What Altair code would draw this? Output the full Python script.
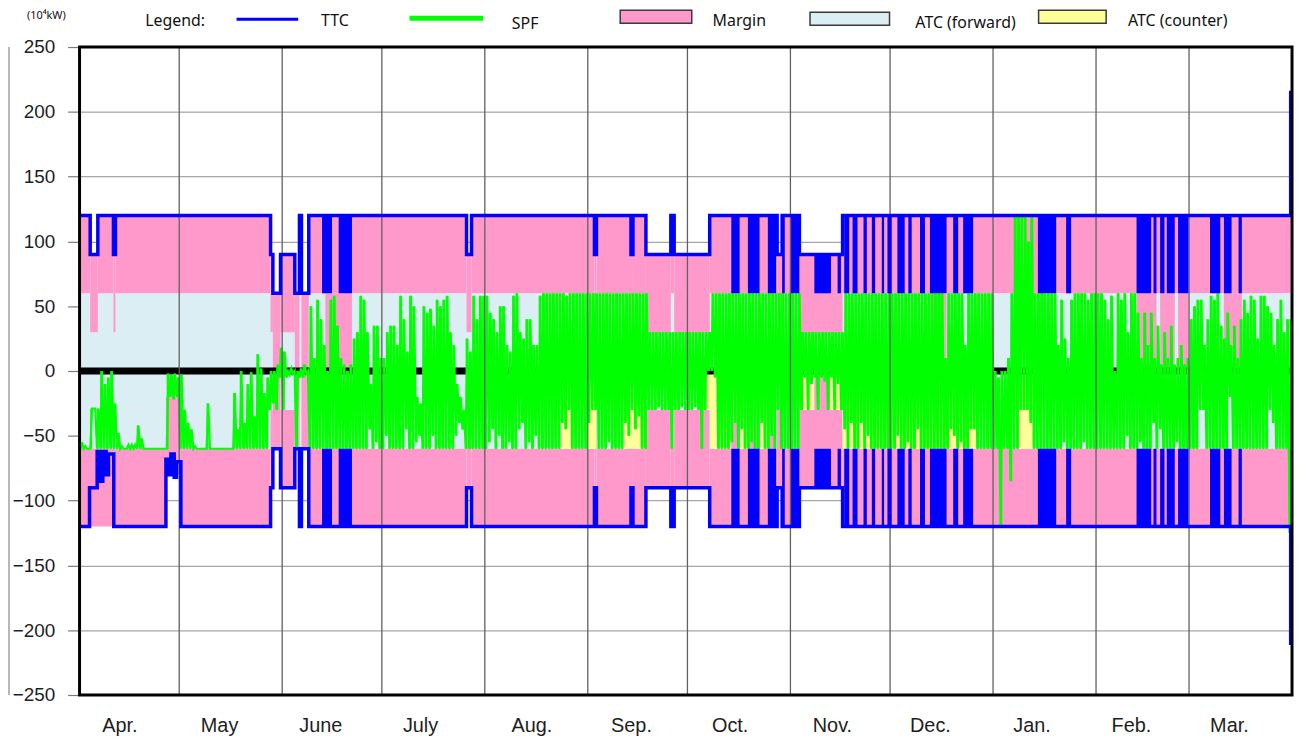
import json
import altair as alt
import pandas as pd

W, H = 1220, 652
PINK, LBLUE, YELLOW, GREEN, BLUE = "#FF99CC", "#DAEEF3", "#FFFF99", "#00FF00", "#0000FF"

# ---------------- axis categories / ticks ----------------
MONTHS = ["Apr.", "May", "June", "July", "Aug.", "Sep.", "Oct.", "Nov.", "Dec.", "Jan.", "Feb.", "Mar."]
MONTH_START = [0, 30, 61, 91, 122, 153, 183, 214, 244, 275, 306, 334, 365]
MONTH_LABEL_AT = [12, 42, 72.5, 102.5, 136, 166, 195.7, 226.5, 256, 286.6, 316.5, 346]
Y_TICKS = [-250, -200, -150, -100, -50, 0, 50, 100, 150, 200, 250]

# ---------------- TTC (step change points: day, 10^4 kW) ----------------
TTC_UP = [(0, 120), (3.2, 90), (5.5, 120), (10.2, 90), (10.8, 120), (57.5, 90), (58.2, 60), (60.5, 90),
          (64.8, 60), (66.2, 120), (66.8, 60), (69, 120), (116.5, 90), (118, 120), (155, 90), (155.6, 120),
          (166, 90), (166.6, 120), (170.5, 90), (178, 120), (179, 90), (189.7, 120), (210, 90), (211.5, 120),
          (216.7, 90), (229.7, 120), (364.6, 215), (365, 215)]
TTC_DN = [(0, -120), (3, -90), (5.3, -62), (6.3, -85), (7, -62), (8, -80), (8.7, -64), (10.3, -120),
          (26, -68), (27, -80), (27.5, -64), (28.5, -82), (29.2, -70), (30.5, -120), (57.5, -90), (58.2, -60),
          (60.5, -90), (64.8, -60), (66.2, -120), (66.8, -60), (69, -120), (116.5, -90), (118, -120),
          (155, -90), (155.6, -120), (166, -90), (166.6, -120), (170.5, -90), (178, -120), (179, -90),
          (189.7, -120), (210, -90), (211.5, -120), (216.7, -90), (229.7, -120), (364.6, -210), (365, -210)]

# periods where TTC flips hourly (drawn as solid blue): day from, day to, outer TTC value, inner value
TTC_FLIP = [(73, 76, 120, 60), (78, 82, 120, 60),
            (196.2, 198.7, 120, 60), (201.2, 204.7, 120, 60), (207.2, 209.7, 120, 60), (211.5, 212.3, 120, 60),
            (214.2, 216.7, 120, 60), (221.2, 226.2, 90, 60), (228.2, 229.2, 90, 60),
            (230.2, 231.7, 120, 60), (232.7, 234.2, 120, 60), (236, 237, 120, 60), (238.5, 239.5, 120, 60),
            (241.5, 242.2, 120, 60), (243.2, 244.5, 120, 60), (246.2, 248.4, 120, 60), (249.5, 250.5, 120, 60),
            (253, 254.5, 120, 60), (256, 261, 120, 60), (263, 264.5, 120, 60), (266, 269, 120, 60),
            (288.5, 294, 120, 60), (297, 298.5, 120, 60),
            (318.2, 322.6, 120, 60), (323.3, 324.2, 120, 60), (325.3, 326.6, 120, 60), (327.3, 329.7, 120, 60),
            (330.7, 333.8, 120, 60), (340.3, 343.4, 120, 60), (344.5, 346.8, 120, 60), (348.9, 349.9, 120, 60)]

# ---------------- Margin / ATC areas (day from, day to, low, high) ----------------
MARGIN_RUNS = [
    (0, 3.2, 60, 120), (3.2, 5.5, 30, 90), (5.5, 10.2, 60, 120), (10.2, 10.8, 30, 90), (10.8, 57.5, 60, 120),
    (57.5, 58.2, 30, 90), (58.2, 60.5, 0, 60), (60.5, 64.8, 30, 90), (64.8, 66.2, 0, 60), (66.2, 66.8, 60, 120),
    (66.8, 69, 0, 60), (69, 116.5, 60, 120), (116.5, 118, 30, 90), (118, 155, 60, 120), (155, 155.6, 30, 90),
    (155.6, 166, 60, 120), (166, 166.6, 30, 90), (166.6, 170.5, 60, 120), (170.5, 178, 30, 90),
    (178, 179, 60, 120), (179, 189.7, 30, 90), (189.7, 210, 60, 120), (210, 211.5, 30, 90),
    (211.5, 216.7, 60, 120), (216.7, 229.7, 30, 90), (229.7, 364.6, 60, 120),
    (0, 26, -120, -60), (26, 30.5, -80, -20), (30.5, 57.5, -120, -60),
    (57.5, 58.2, -90, -30), (58.2, 60.5, -60, 0), (60.5, 64.8, -90, -30), (64.8, 66.2, -60, 0),
    (66.2, 66.8, -120, -60), (66.8, 69, -60, 0), (69, 116.5, -120, -60), (116.5, 118, -90, -30),
    (118, 155, -120, -60), (155, 155.6, -90, -30), (155.6, 166, -120, -60), (166, 166.6, -90, -30),
    (166.6, 170.5, -120, -60), (170.5, 178, -90, -30), (178, 179, -120, -60), (179, 189.7, -90, -30),
    (189.7, 210, -120, -60), (210, 211.5, -90, -30), (211.5, 216.7, -120, -60), (216.7, 229.7, -90, -30),
    (229.7, 364.6, -120, -60)]
MARGIN_IN_BAND = [(74, 82, 0, 60), (196.2, 198.7, -60, 0), (201.2, 204.7, -60, 0), (207.2, 209.7, -60, 0),
                  (221.2, 226.2, -30, 0), (256, 261, 0, 60), (318.2, 324.2, 0, 60), (325.3, 329.7, 0, 60),
                  (330.7, 333.8, 0, 60), (344.5, 349.9, 0, 60)]
ATC_FWD_RUNS = [(0, 364.6, -60, 60)]
ATC_CNT_RUNS = [(145, 148.5, -60, 0), (152.5, 155.5, -60, 0), (163.5, 170.5, -60, 0), (187.7, 189.7, -30, 0),
                (189.7, 196, -60, 0), (199, 201, -60, 0), (205, 207, -60, 0), (217, 221, -30, 0),
                (226, 229.7, -30, 0), (229.7, 270, -60, 0), (282, 287.5, -60, 0)]

# ---------------- SPF daily high / low (10^4 kW) ----------------
hi_apr = [-55, -58, -60, -29, -29, -29, 0, -10, -5, 0, -25, -48, -58, -60, -57, -57, -57, -42, -52, -60,
          -60, -60, -60, -60, -60, -60, -2, -3, -2, -5]
lo_apr = [-60, -60, -60, -60, -29, -60, -60, -60, -60, -60, -60, -60, -60, -60, -60, -60, -60, -60, -60, -60,
          -60, -60, -60, -60, -60, -60, -60, -20, -22, -20]
hi_may = [-3, -30, -40, -45, -58, -60, -60, -60, -25, -60, -60, -60, -60, -60, -60, -60, -17, -45, 0, -40,
          -10, -1, -35, 13, 2, -17, -5, 0, 0, 5, 18]
lo_may = [-60, -60, -60, -60, -60, -60, -60, -60, -60, -60, -60, -60, -60, -60, -60, -60, -60, -60, -60, -60,
          -60, -60, -60, -60, -60, -60, -60, -30, -25, -30, -5]
hi_jun = [15, 0, 2, 0, 0, 2, 5, 0, 50, 10, 55, 40, 20, 0, 55, 58, 35, 10, 5, 0,
          5, 25, 30, 58, 55, 30, -10, 35, 35, 10]
lo_jun = [-30, -5, -3, -2, -60, -5, -5, -2, -60, -60, -60, -60, -60, -60, -60, -60, -60, -60, -60, -60,
          -60, -60, -60, -60, -60, -60, -45, -60, -55, -60]
hi_jul = [10, 30, 35, 35, 20, 58, 40, 15, 58, 50, -20, -25, 50, 45, 48, 35, 55, 50, 55, 58,
          30, 20, -10, -20, -30, 25, 15, 58, 40, 58, 58]
lo_jul = [-60, -50, -60, -60, -60, -60, -60, -45, -60, -60, -55, -50, -60, -60, -60, -50, -60, -60, -60, -60,
          -60, -60, -50, -40, -45, -60, -60, -60, -60, -60, -60]
hi_aug = [58, 45, 40, 30, 50, 50, 20, 15, 58, 60, 30, 25, 40, 40, 20, 20, 58, 60, 60, 60,
          60, 60, 60, 60, 58, 60, 60, 60, 60, 60, 60]
lo_aug = [-60, -55, -45, -60, -50, -60, -60, -55, -60, -60, -45, -40, -60, -55, -60, -50, -60, -60, -60, -60,
          -60, -60, -60, -40, -45, -30, -60, -60, -60, -60, -60]
hi_sep = [60, 60, 60, 60, 60, 60, 60, 60, 60, 60, 60, 60, 60, 60, 60, 60, 60, 60, 30, 30,
          30, 30, 30, 30, 30, 30, 30, 30, 30, 30]
lo_sep = [-40, -30, -30, -60, -60, -60, -55, -60, -60, -60, -60, -40, -50, -30, -45, -35, -60, -60, -30, -30,
          -30, -28, -30, -30, -30, -60, -30, -30, -28, -30]
hi_oct = [30, 30, 30, 30, 30, 30, 30, 60, 60, 60, 60, 60, 60, 60, 60, 60, 60, 60, 60, 60,
          60, 60, 60, 60, 60, 60, 60, 60, 60, 60, 60]
lo_oct = [-30, -30, -28, -30, -60, -30, 0, 0, -5, -60, -60, -60, -60, -55, -40, -60, -45, -60, -60, -55,
          -60, -60, -40, -60, -60, -50, -60, -30, -60, -60, -60]
hi_nov = [60, 60, 60, 30, 30, 30, 30, 30, 30, 30, 30, 30, 30, 30, 30, 30, 60, 60, 60, 60,
          60, 60, 60, 60, 60, 60, 60, 60, 60, 60]
lo_nov = [-60, -60, -60, -30, -5, -30, -10, -5, -30, -5, -8, -30, -5, -30, -10, -30, -45, -60, -40, -60,
          -60, -40, -60, -50, -60, -60, -60, -60, -60, -60]
hi_dec = [60, 60, 60, 60, 60, 60, 60, 60, 60, 60, 60, 60, 60, 60, 100, 60, 10, 60, 60, 60,
          60, 60, 20, 60, 60, 60, 60, 60, 60, 60, 60]
lo_dec = [-60, -60, -50, -60, -60, -55, -60, -60, -45, -60, -60, -60, -60, -60, -60, -60, -60, -60, -45, -50,
          -60, -55, -60, -60, -45, -45, -60, -60, -60, -60, -60]
hi_jan = [0, -5, 0, 0, 10, 60, 120, 120, 120, 120, 100, 120, 60, 60, 110, 60, 60, 60, 60, 20,
          55, 25, 10, 55, 60, 60, 60, 60, 55, 60, 60]
lo_jan = [-60, -60, -120, -60, -60, -85, -60, -60, -30, -30, -30, -40, -60, -60, -60, -60, -60, -60, -60, -60,
          -60, -55, -60, -60, -60, -60, -60, -55, -60, -60, -60]
hi_feb = [60, 60, 55, 40, 58, 0, 60, 55, 60, 30, 60, 60, 45, 10, 45, 20, 45, 10, 35, 5,
          30, 10, 35, 5, 10, 20, 5, 10]
lo_feb = [-60, -60, -60, -60, -60, -60, -60, -60, -60, -50, -60, -60, -60, -55, -60, -60, -60, -40, -60, -45,
          -60, -60, -60, -60, -55, -60, -60, -60]
hi_mar = [40, 50, 55, 55, 20, 40, 58, 55, 60, 35, 25, 45, 20, 35, 10, 40, 55, 45, 58, 55,
          25, 58, 58, 50, 45, 20, 40, 55, 30, 40, 40]
lo_mar = [-60, -60, -60, -30, -30, -60, -60, -60, -60, -60, -60, -60, -20, -60, -60, -60, -60, -60, -60, -60,
          -60, -60, -60, -60, -30, -40, -60, -60, -60, -60, -125]

SPF_HI = hi_apr + hi_may + hi_jun + hi_jul + hi_aug + hi_sep + hi_oct + hi_nov + hi_dec + hi_jan + hi_feb + hi_mar
SPF_LO = lo_apr + lo_may + lo_jun + lo_jul + lo_aug + lo_sep + lo_oct + lo_nov + lo_dec + lo_jan + lo_feb + lo_mar

# ---------------- scales / axes (shared by every data layer) ----------------
FONT = "Liberation Sans"
XS = alt.Scale(domain=[0, 365], nice=False, zero=False)
YS = alt.Scale(domain=[-250, 250], nice=False, zero=False)
label_expr = f"{json.dumps(MONTHS)}[indexof({json.dumps(MONTH_LABEL_AT)}, datum.value)]"
XAX = alt.Axis(values=MONTH_LABEL_AT, labelExpr=label_expr, title=None, grid=False, ticks=False, domain=False,
               labelPadding=21, labelFontSize=20, labelFont=FONT, labelColor="#1e1e1e", labelFlush=False)
YAX = alt.Axis(values=Y_TICKS, title=None, grid=True, gridColor="#8f8f8f", gridWidth=1,
               domain=False, ticks=True, tickSize=12, tickColor="#7a7a7a", tickWidth=1.2,
               labelPadding=13, labelFontSize=19, labelFont=FONT, labelColor="#1e1e1e")


def X(field):
    return alt.X(field, scale=XS, axis=XAX)


def Y(field):
    return alt.Y(field, scale=YS, axis=YAX)


def runs_df(runs):
    return pd.DataFrame(runs, columns=["d0", "d1", "lo", "hi"])


def rect_layer(runs, color):
    return alt.Chart(runs_df(runs)).mark_rect(color=color).encode(
        x=X("d0:Q"), x2="d1:Q", y=Y("lo:Q"), y2="hi:Q")


fwd = rect_layer(ATC_FWD_RUNS, LBLUE)
margin = rect_layer(MARGIN_RUNS, PINK)
margin_band = rect_layer(MARGIN_IN_BAND, PINK)
counter = rect_layer(ATC_CNT_RUNS, YELLOW)

zero = alt.Chart(pd.DataFrame({"v": [0]})).mark_rule(color="black", strokeWidth=7).encode(
    x=alt.value(0), x2=alt.value(W), y=Y("v:Q"))

# SPF: daily envelope bars + zig-zag line through daily low / high
n_days = min(len(SPF_HI), len(SPF_LO))
spf_bar_df = pd.DataFrame({"a": [d + 0.22 for d in range(n_days)],
                           "b": [d + 0.78 for d in range(n_days)],
                           "lo": SPF_LO[:n_days], "hi": SPF_HI[:n_days]})
spf_bars = alt.Chart(spf_bar_df).mark_rect(color=GREEN).encode(
    x=X("a:Q"), x2="b:Q", y=Y("lo:Q"), y2="hi:Q")
spf_rows = []
for d, (lo, hi) in enumerate(zip(SPF_LO, SPF_HI)):
    spf_rows.append({"t": d + 0.25, "v": lo})
    spf_rows.append({"t": d + 0.75, "v": hi})
spf = alt.Chart(pd.DataFrame(spf_rows)).mark_line(color=GREEN, strokeWidth=2.2, clip=True).encode(
    x=X("t:Q"), y=Y("v:Q"))

month_lines = alt.Chart(pd.DataFrame({"m": MONTH_START[1:-1]})).mark_rule(
    color="#606060", strokeWidth=1.3).encode(
    x=X("m:Q"), y=alt.value(0), y2=alt.value(H))

flip_rows = []
for d0, d1, outer, inner in TTC_FLIP:
    flip_rows.append({"d0": d0, "d1": d1, "lo": inner, "hi": outer})
    flip_rows.append({"d0": d0, "d1": d1, "lo": -outer, "hi": -inner})
flips = alt.Chart(pd.DataFrame(flip_rows)).mark_rect(color=BLUE).encode(
    x=X("d0:Q"), x2="d1:Q", y=Y("lo:Q"), y2="hi:Q")

ttc_rows = [{"side": "up", "day": d, "v": v} for d, v in TTC_UP] + \
           [{"side": "dn", "day": d, "v": v} for d, v in TTC_DN]
ttc = alt.Chart(pd.DataFrame(ttc_rows)).mark_line(
    color=BLUE, strokeWidth=3.5, interpolate="step-after").encode(
    x=X("day:Q"), y=Y("v:Q"), detail="side:N")

one = pd.DataFrame({"k": [0]})
frame = alt.Chart(one).mark_rect(filled=False, stroke="black", strokeWidth=3).encode(
    x=alt.value(0), x2=alt.value(W), y=alt.value(0), y2=alt.value(H))
left_rule = alt.Chart(one).mark_rule(color="#a0a0a0", strokeWidth=1.5).encode(
    x=alt.value(-71), y=alt.value(0), y2=alt.value(H))

# ---------------- legend (manual, above plot) ----------------
LEG_NAMES = ["TTC", "SPF", "Margin", "ATC (forward)", "ATC (counter)"]
leg_text = pd.DataFrame({
    "label": ["Legend:"] + LEG_NAMES,
    "px": [66, 243, 435, 637, 841, 1055],
    "py": [-26, -26, -23, -26, -24, -26]})
legend_text = alt.Chart(leg_text).mark_text(
    align="left", baseline="middle", fontSize=16, font="Noto Sans", color="#111111").encode(
    x=alt.X("px:Q", scale=None), y=alt.Y("py:Q", scale=None), text="label:N")
leg_lines = pd.DataFrame({"x0": [158, 332], "x1": [220, 406], "py": [-28, -29],
                          "c": [BLUE, GREEN], "w": [3, 5]})
legend_lines = alt.Chart(leg_lines).mark_rule().encode(
    x=alt.X("x0:Q", scale=None), x2="x1:Q", y=alt.Y("py:Q", scale=None),
    color=alt.Color("c:N", scale=None), strokeWidth=alt.StrokeWidth("w:Q", scale=None, legend=None))
leg_boxes = pd.DataFrame({"x0": [544, 735, 965], "x1": [616, 815, 1033], "y0": [-37, -35, -37],
                          "y1": [-24, -22, -24], "c": [PINK, LBLUE, YELLOW]})
legend_boxes = alt.Chart(leg_boxes).mark_rect(stroke="#3a3a3a", strokeWidth=1.5).encode(
    x=alt.X("x0:Q", scale=None), x2="x1:Q", y=alt.Y("y0:Q", scale=None), y2="y1:Q",
    fill=alt.Fill("c:N", scale=None))
unit = alt.Chart(pd.DataFrame({"t": ["(10⁴kW)"]})).mark_text(
    align="left", baseline="middle", fontSize=11, font="Noto Sans", color="#111111").encode(
    x=alt.value(-53), y=alt.value(-31), text="t:N")

chart = alt.layer(
    fwd, margin, margin_band, counter, zero, spf_bars, spf, month_lines, flips, ttc, frame, left_rule,
    legend_text, legend_lines, legend_boxes, unit
).properties(
    width=W, height=H,
    padding={"left": 72, "top": 37, "right": 3, "bottom": 45},
    autosize=alt.AutoSizeParams(type="none"),
).configure_view(stroke=None).configure(background="white")

chart.save("out.html", embed_options={"renderer": "svg", "actions": False})
